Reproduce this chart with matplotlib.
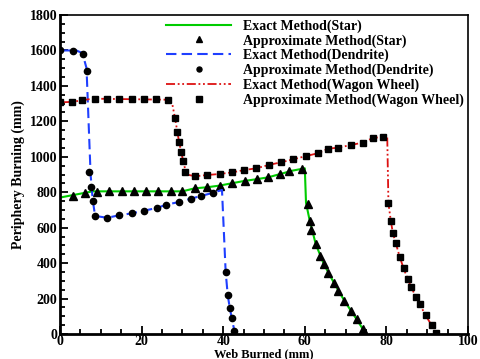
import matplotlib
matplotlib.use("Agg")
import matplotlib.pyplot as plt
from matplotlib.ticker import MultipleLocator

plt.rcParams['font.family'] = ['Liberation Serif', 'DejaVu Serif']
plt.rcParams['font.weight'] = 'bold'
plt.rcParams['font.size'] = 10

# Star grain
star_exact_x = [0, 8, 30, 33, 36, 39, 42, 45, 48, 51, 54, 57, 60, 60.3, 61.2, 62.7, 64.7, 67.2, 69.7, 72.7, 75]
star_exact_y = [770, 805, 805, 822, 828, 837, 850, 863, 873, 884, 903, 922, 935, 740, 640, 506, 393, 286, 188, 83, 0]
star_appr_x = [3.1, 6.1, 9.1, 12.0, 15.1, 18.1, 21.1, 24.1, 27.1, 30.0, 33.0, 36.1, 39.2, 42.2,
               45.3, 48.2, 51.1, 53.8, 56.2, 59.2, 60.7, 61.2, 61.6, 62.7, 63.7, 64.7, 65.7,
               67.2, 68.2, 69.7, 71.3, 72.7, 74.3]
star_appr_y = [780, 794, 803, 805, 805, 805, 805, 805, 805, 805, 822, 828, 837, 850,
               863, 873, 884, 903, 922, 933, 734, 640, 587, 506, 442, 393, 346,
               286, 244, 188, 131, 83, 26]

# Dendrite grain
dend_exact_x = [0, 4, 5.5, 6.5, 7.0, 7.5, 8.0, 8.6, 11.6, 14.5, 17.6, 20.6, 23.7, 26.1, 29.2,
                32.1, 34.6, 37.5, 39.7, 40.6, 41.1, 41.6, 42.1, 42.9]
dend_exact_y = [1600, 1600, 1585, 1500, 1200, 900, 760, 666, 656, 670, 681, 696, 711, 730, 745,
                764, 779, 797, 813, 352, 222, 148, 90, 0]
dend_appr_x = [0, 3.1, 5.6, 6.6, 7.1, 7.5, 8.0, 8.6, 11.6, 14.5, 17.6, 20.6, 23.7, 26.1, 29.2,
               32.1, 34.6, 37.5, 40.6, 41.1, 41.6, 42.1, 42.7]
dend_appr_y = [1603, 1597, 1578, 1486, 912, 828, 752, 666, 656, 670, 681, 696, 711, 730, 745,
               764, 779, 797, 352, 222, 148, 90, 17]

# Wagon wheel grain
wagon_exact_x = [0, 3, 8, 26.5, 27.5, 28.2, 29.2, 30.2, 31.0, 33.2, 36.0, 39.1, 42.2, 45.1, 48.1,
                 51.2, 54.2, 57.2, 60.3, 63.2, 65.7, 68.1, 71.4, 74.2, 76.7, 79.1, 80.2, 80.5,
                 81.1, 81.6, 82.3, 83.3, 84.2, 85.2, 86.1, 87.2, 88.2, 89.6, 91.1, 92.5]
wagon_exact_y = [1307, 1310, 1328, 1322, 1300, 1217, 1082, 975, 900, 890, 897, 903, 912, 925, 935,
                 954, 969, 986, 1004, 1020, 1046, 1051, 1067, 1080, 1106, 1112, 1120, 737,
                 636, 568, 512, 433, 371, 312, 263, 211, 167, 105, 49, 0]
wagon_appr_x = [0.1, 2.9, 5.5, 8.6, 11.6, 14.5, 17.6, 20.6, 23.6, 26.5, 28.2, 28.7, 29.2, 29.7,
                30.2, 30.6, 33.2, 36.0, 39.1, 42.2, 45.1, 48.1, 51.2, 54.2, 57.2, 60.3, 63.2,
                65.7, 68.1, 71.4, 74.2, 76.7, 79.1, 80.5, 81.1, 81.6, 82.3, 83.3, 84.2, 85.2,
                86.1, 87.2, 88.2, 89.6, 91.1, 92.2]
wagon_appr_y = [1307, 1307, 1320, 1328, 1328, 1326, 1324, 1324, 1324, 1320, 1217, 1142, 1082, 1025,
                975, 912, 890, 897, 903, 912, 925, 935, 954, 969, 986, 1004, 1020,
                1046, 1051, 1067, 1080, 1106, 1112, 737, 636, 568, 512, 433, 371, 312,
                263, 211, 167, 105, 49, 4]

fig = plt.figure(figsize=(4.8, 3.59), dpi=100)
ax = fig.add_axes([0.125, 0.0696, 0.85, 0.8886])

ax.plot(star_exact_x, star_exact_y, color='#00cc00', lw=1.5, label='Exact Method(Star)')
ax.plot(star_appr_x, star_appr_y, ls='none', marker='^', ms=5.5, color='black',
        label='Approximate Method(Star)')
ax.plot(dend_exact_x, dend_exact_y, color='#1f3fff', lw=1.5, ls=(0, (5, 2.5)),
        label='Exact Method(Dendrite)')
ax.plot(dend_appr_x, dend_appr_y, ls='none', marker='o', ms=4.5, color='black',
        label='Approximate Method(Dendrite)')
ax.plot(wagon_exact_x, wagon_exact_y, color='#dd1111', lw=1.3, ls=(0, (5, 1.5, 1, 1.5, 1, 1.5)),
        label='Exact Method(Wagon Wheel)')
ax.plot(wagon_appr_x, wagon_appr_y, ls='none', marker='s', ms=4.8, color='black',
        label='Approximate Method(Wagon Wheel)')

ax.set_xlim(0, 100)
ax.set_ylim(0, 1800)
ax.xaxis.set_major_locator(MultipleLocator(20))
ax.xaxis.set_minor_locator(MultipleLocator(5))
ax.yaxis.set_major_locator(MultipleLocator(200))
ax.yaxis.set_minor_locator(MultipleLocator(50))
ax.tick_params(which='both', direction='in', top=False, right=False, width=1.3, pad=2)
ax.tick_params(axis='x', which='both', pad=1)
ax.tick_params(which='major', length=6)
ax.tick_params(which='minor', length=3.5)
for s in ['left', 'bottom']:
    ax.spines[s].set_linewidth(2)
for s in ['top', 'right']:
    ax.spines[s].set_linewidth(1.2)

ax.set_xlabel('Web Burned (mm)', fontweight='bold', fontsize=9, labelpad=0)
ax.set_ylabel('Periphery Burning (mm)', fontweight='bold', labelpad=3)

leg = ax.legend(loc='upper right', bbox_to_anchor=(1.0, 1.0), borderaxespad=0.1, borderpad=0.2,
                frameon=False, handlelength=4.7, handletextpad=0.85, labelspacing=0.1,
                prop={'weight': 'bold', 'size': 10}, markerscale=0.8)

fig.savefig('out.png', dpi=100)
